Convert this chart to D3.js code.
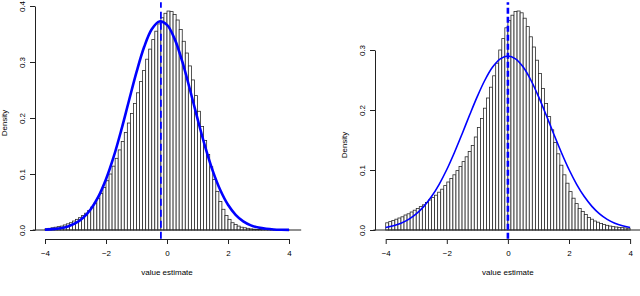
<!DOCTYPE html>
<html>
<head>
<meta charset="utf-8">
<script src="https://cdn.jsdelivr.net/npm/d3@7"></script>
<style>
  body { margin: 0; background: #fff; }
  svg { display: block; }
  text { font-family: "Liberation Sans", Arial, sans-serif; fill: #000; }
</style>
</head>
<body>
<svg id="chart" width="640" height="296"></svg>
<script>
// histogram densities, bins of width 0.1 starting at -4
const leftDensity = [
  0.002, 0.003, 0.004, 0.005, 0.006, 0.007, 0.009, 0.011, 0.013, 0.016,
  0.019, 0.022, 0.026, 0.030, 0.035, 0.041, 0.048, 0.056, 0.065, 0.076,
  0.088, 0.100, 0.114, 0.128, 0.143, 0.158, 0.174, 0.191, 0.208, 0.226,
  0.245, 0.265, 0.285, 0.305, 0.323, 0.340, 0.355, 0.368, 0.379, 0.387,
  0.391, 0.390, 0.385, 0.375, 0.358, 0.337, 0.316, 0.293, 0.268, 0.240,
  0.212, 0.185, 0.160, 0.135, 0.113, 0.090, 0.069, 0.051, 0.037, 0.026,
  0.019, 0.013, 0.010, 0.007, 0.005, 0.004, 0.003, 0.002, 0.0015, 0.001,
  0.0008, 0.0006, 0.0005, 0.0004, 0.0003, 0.0002, 0.0002, 0.0001, 0.0001, 0.0001
];
const rightDensity = [
  0.012, 0.014, 0.016, 0.018, 0.020, 0.022, 0.025, 0.027, 0.030, 0.033,
  0.036, 0.039, 0.042, 0.046, 0.050, 0.054, 0.058, 0.063, 0.068, 0.074,
  0.080, 0.086, 0.092, 0.099, 0.106, 0.114, 0.122, 0.131, 0.141, 0.155,
  0.171, 0.186, 0.203, 0.220, 0.238, 0.257, 0.278, 0.300, 0.319, 0.337,
  0.349, 0.358, 0.364, 0.365, 0.362, 0.353, 0.339, 0.322, 0.305, 0.283,
  0.261, 0.236, 0.211, 0.189, 0.167, 0.146, 0.127, 0.108, 0.092, 0.078,
  0.064, 0.053, 0.044, 0.036, 0.031, 0.026, 0.021, 0.018, 0.015, 0.013,
  0.011, 0.009, 0.0078, 0.0066, 0.0056, 0.0050, 0.0044, 0.0039, 0.0034, 0.0029
];
const binStart = -4;
const binWidth = 0.1;

// fitted normal curves, read at steps of 0.25 from -4 to 4
const curveX = [
  -4, -3.75, -3.5, -3.25, -3, -2.75, -2.5, -2.25, -2, -1.75, -1.5, -1.25, -1, -0.75, -0.5, -0.25,
  0, 0.25, 0.5, 0.75, 1, 1.25, 1.5, 1.75, 2, 2.25, 2.5, 2.75, 3, 3.25, 3.5, 3.75, 4
];
const leftCurve = [
  0.0007, 0.0015, 0.0032, 0.0064, 0.0121, 0.0218, 0.0370, 0.0595, 0.0906, 0.1304, 0.1782,
  0.2304, 0.2819, 0.3267, 0.3584, 0.3724, 0.3663, 0.3413, 0.3010, 0.2514, 0.1988, 0.1489,
  0.1055, 0.0709, 0.0450, 0.0271, 0.0154, 0.0083, 0.0043, 0.0021, 0.0009, 0.0004, 0.0002
];
const rightCurve = [
  0.0042, 0.0071, 0.0114, 0.0178, 0.0269, 0.0394, 0.0557, 0.0762, 0.1008, 0.1292, 0.1601,
  0.1920, 0.2227, 0.2500, 0.2715, 0.2852, 0.2900, 0.2852, 0.2715, 0.2500, 0.2227, 0.1920,
  0.1601, 0.1292, 0.1008, 0.0762, 0.0557, 0.0394, 0.0269, 0.0178, 0.0114, 0.0071, 0.0042
];

const leftMean = -0.2;
const rightMean = 0;
const xTicks = [-4, -2, 0, 2, 4];
const leftYTicks = [0, 0.1, 0.2, 0.3, 0.4];
const rightYTicks = [0, 0.1, 0.2, 0.3];

const svg = d3.select("#chart");

function drawPanel(p) {
  const g = svg.append("g");
  const x = d3.scaleLinear().domain([-4, 4]).range(p.xRange);
  const y = d3.scaleLinear().domain(p.yDomain).range(p.yRange);

  const ymax = d3.max(p.density);
  const usr = [-0.04 * ymax, 1.04 * ymax]; // R-style 4% padding

  // bars
  g.append("g")
    .selectAll("rect")
    .data(p.density)
    .join("rect")
    .attr("x", (d, i) => x(binStart + i * binWidth))
    .attr("width", x(binWidth) - x(0))
    .attr("y", (d) => y(d))
    .attr("height", (d) => y(0) - y(d))
    .attr("fill", "#fff")
    .attr("stroke", "#2a2a2a")
    .attr("stroke-width", 0.8);

  // zero line across plot region
  g.append("line")
    .attr("x1", x(-4.4)).attr("x2", x(4.4))
    .attr("y1", y(0)).attr("y2", y(0))
    .attr("stroke", "#222").attr("stroke-width", 1);

  // normal fit
  g.append("path")
    .datum(curveX.map((v, i) => [v, p.curve[i]]))
    .attr("fill", "none")
    .attr("stroke", "#0000ff")
    .attr("stroke-width", p.curveWidth)
    .attr("d", d3.line().x((d) => x(d[0])).y((d) => y(d[1])).curve(d3.curveCatmullRom));

  // mean line
  g.append("line")
    .attr("x1", x(p.mean)).attr("x2", x(p.mean))
    .attr("y1", y(usr[0])).attr("y2", y(usr[1]))
    .attr("stroke", "#0000ff")
    .attr("stroke-width", p.dashWidth)
    .attr("stroke-dasharray", p.dash);

  // axes
  const xAxis = g.append("g")
    .attr("transform", `translate(0,${p.axisY})`)
    .call(d3.axisBottom(x).tickValues(xTicks).tickSize(5).tickSizeOuter(0).tickFormat(d3.format("d")));
  xAxis.selectAll("text").attr("y", 17).attr("dy", 0).style("font-size", "8px");

  const yAxis = g.append("g")
    .attr("transform", `translate(${p.axisX},0)`)
    .call(d3.axisLeft(y).tickValues(p.yTicks).tickSize(5).tickSizeOuter(0).tickFormat(d3.format(".1f")));
  yAxis.selectAll("text")
    .attr("transform", "rotate(-90)")
    .attr("x", 0).attr("y", -10.5).attr("dy", 0)
    .attr("text-anchor", "middle")
    .style("font-size", "8px");

  [xAxis, yAxis].forEach((a) => {
    a.select(".domain").attr("stroke", "#222");
    a.selectAll(".tick line").attr("stroke", "#222");
    a.attr("font-family", null);
  });

  g.append("text")
    .attr("x", x(0)).attr("y", 274.5)
    .attr("text-anchor", "middle")
    .style("font-size", "8px")
    .text("value estimate");

  g.append("text")
    .attr("transform", `translate(${p.axisX - 28},${(y(0) + y(p.yTicks[p.yTicks.length - 1])) / 2 + 5}) rotate(-90)`)
    .attr("text-anchor", "middle")
    .style("font-size", "8px")
    .text("Density");
}

drawPanel({
  density: leftDensity, curve: leftCurve, mean: leftMean, yTicks: leftYTicks,
  xRange: [45, 289], yDomain: [0, 0.4], yRange: [230, 6],
  axisX: 35, axisY: 239, curveWidth: 2.6, dashWidth: 1.8, dash: "7,4"
});

drawPanel({
  density: rightDensity, curve: rightCurve, mean: rightMean, yTicks: rightYTicks,
  xRange: [385.7, 630.1], yDomain: [0, 0.3], yRange: [230, 50],
  axisX: 375, axisY: 239, curveWidth: 1.6, dashWidth: 2.6, dash: "6,3"
});
</script>
</body>
</html>
